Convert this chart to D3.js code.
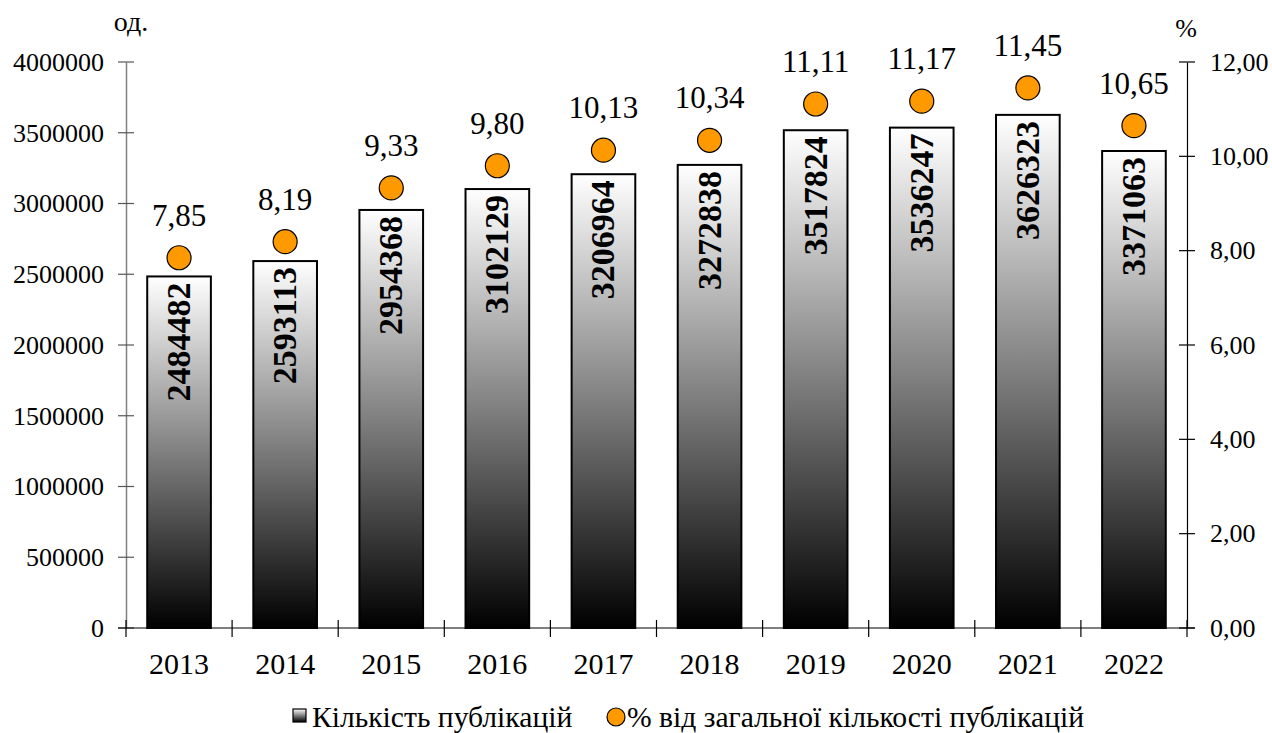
<!DOCTYPE html>
<html><head><meta charset="utf-8">
<script src="https://cdn.jsdelivr.net/npm/d3@7"></script>
<style>body{margin:0;background:#fff}svg{display:block}svg text{font-family:"Liberation Serif","Times New Roman",serif}</style>
</head><body><svg id="c" width="1272" height="733"></svg>
<script>
const years = ["2013","2014","2015","2016","2017","2018","2019","2020","2021","2022"];
const counts = [2484482,2593113,2954368,3102129,3206964,3272838,3517824,3536247,3626323,3371063];
const shares = [7.85,8.19,9.33,9.80,10.13,10.34,11.11,11.17,11.45,10.65];
const leftTicks = [0,500000,1000000,1500000,2000000,2500000,3000000,3500000,4000000];
const rightTicks = [0,2,4,6,8,10,12];

const svg = d3.select("#c");
const L=126, R=1187, T=62, B=628;
const FF = "Liberation Serif";
const x = d3.scaleBand().domain(years).range([L,R]).paddingInner(0.4).paddingOuter(0.2);
const xb = d3.scaleBand().domain(years).range([L,R]);
const y = d3.scaleLinear().domain([0,4000000]).range([B,T]);
const y2 = d3.scaleLinear().domain([0,12]).range([B,T]);

const defs = svg.append("defs");
const g = defs.append("linearGradient").attr("id","bg").attr("x1",0).attr("y1",0).attr("x2",0).attr("y2",1);
g.append("stop").attr("offset","0%").attr("stop-color","#ffffff");
g.append("stop").attr("offset","100%").attr("stop-color","#000000");
const g2 = defs.append("linearGradient").attr("id","lg").attr("x1",0).attr("y1",0).attr("x2",0).attr("y2",1);
g2.append("stop").attr("offset","0%").attr("stop-color","#ffffff");
g2.append("stop").attr("offset","100%").attr("stop-color","#000000");

// bars
svg.append("g").selectAll("rect").data(years).join("rect")
  .attr("x",d=>x(d)).attr("width",x.bandwidth())
  .attr("y",(d,i)=>y(counts[i])).attr("height",(d,i)=>B-y(counts[i]))
  .attr("fill","url(#bg)").attr("stroke","#000").attr("stroke-width",2);

// bar labels
svg.append("g").selectAll("text").data(years).join("text")
  .attr("transform",(d,i)=>`translate(${x(d)+x.bandwidth()/2+11},${y(counts[i])+6}) rotate(-90)`)
  .attr("text-anchor","end").attr("font-weight","bold").attr("font-size",34).attr("fill","#000")
  .text((d,i)=>counts[i]);

// left axis
const la = svg.append("g").attr("transform",`translate(${L},0)`)
  .call(d3.axisLeft(y).tickValues(leftTicks).tickSize(0).tickPadding(22).tickFormat(d=>d));
la.attr("font-family",FF);
la.select(".domain").attr("stroke","#808080").attr("stroke-width",1.5);
la.selectAll("text").attr("font-size",26).attr("font-family",FF).attr("fill","#000");
svg.append("g").selectAll("line").data(leftTicks).join("line")
  .attr("x1",L-8).attr("x2",L+8).attr("y1",d=>y(d)).attr("y2",d=>y(d)).attr("stroke","#555").attr("stroke-width",1.2);

// right axis
const ra = svg.append("g").attr("transform",`translate(${R},0)`)
  .call(d3.axisRight(y2).tickValues(rightTicks).tickSize(0).tickPadding(23).tickFormat(d=>d3.format(".2f")(d).replace(".",",")));
ra.attr("font-family",FF);
ra.select(".domain").attr("stroke","#000").attr("stroke-width",1.2);
ra.selectAll("text").attr("font-size",26).attr("font-family",FF).attr("fill","#000");
svg.append("g").selectAll("line").data(rightTicks).join("line")
  .attr("x1",R-8).attr("x2",R+8).attr("y1",d=>y2(d)).attr("y2",d=>y2(d)).attr("stroke","#000").attr("stroke-width",1.2);

// bottom axis
svg.append("line").attr("x1",L-8).attr("x2",R+8).attr("y1",B).attr("y2",B).attr("stroke","#000").attr("stroke-width",1.2);
const bt = years.map(d=>xb(d)).concat([R]);
svg.append("g").selectAll("line").data(bt).join("line")
  .attr("x1",d=>d).attr("x2",d=>d).attr("y1",B-8).attr("y2",B+9).attr("stroke","#000").attr("stroke-width",1.2);
svg.append("g").selectAll("text").data(years).join("text")
  .attr("x",d=>x(d)+x.bandwidth()/2).attr("y",674).attr("text-anchor","middle").attr("font-size",30).text(d=>d);

// dots
svg.append("g").selectAll("circle").data(years).join("circle")
  .attr("cx",d=>x(d)+x.bandwidth()/2).attr("cy",(d,i)=>y2(shares[i])).attr("r",12)
  .attr("fill","#ff9900").attr("stroke","#000").attr("stroke-width",1.2);
svg.append("g").selectAll("text").data(years).join("text")
  .attr("x",d=>x(d)+x.bandwidth()/2).attr("y",(d,i)=>y2(shares[i])-32).attr("text-anchor","middle")
  .attr("font-size",31).text((d,i)=>d3.format(".2f")(shares[i]).replace(".",","));

// units
svg.append("text").attr("x",131).attr("y",31).attr("text-anchor","middle").attr("font-size",28).text("од.");
svg.append("text").attr("x",1186).attr("y",37).attr("text-anchor","middle").attr("font-size",26).text("%");

// legend
svg.append("rect").attr("x",293).attr("y",709).attr("width",13).attr("height",13).attr("fill","url(#lg)").attr("stroke","#000").attr("stroke-width",1.2);
svg.append("text").attr("x",312).attr("y",727).attr("font-size",29.6).text("Кількість публікацій");
svg.append("circle").attr("cx",616).attr("cy",717).attr("r",9).attr("fill","#ff9900").attr("stroke","#000").attr("stroke-width",1.2);
svg.append("text").attr("x",627).attr("y",727).attr("font-size",29.6).text("% від загальної кількості публікацій");
</script></body></html>
